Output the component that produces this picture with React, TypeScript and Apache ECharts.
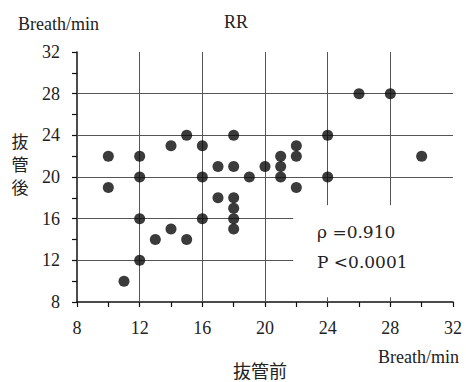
import React, { useEffect, useRef } from "react";
import * as echarts from "echarts";

// 抜管前 (x) vs 抜管後 (y), breaths/min
const beforeValues = [10, 10, 11, 12, 12, 12, 12, 13, 14, 14, 15, 15, 16, 16, 16, 17, 17, 18, 18, 18, 18, 18, 18, 19, 20, 21, 21, 21, 22, 22, 22, 24, 24, 26, 28, 30];
const afterValues = [22, 19, 10, 22, 20, 16, 12, 14, 23, 15, 24, 14, 23, 20, 16, 21, 18, 24, 21, 18, 17, 16, 15, 20, 21, 22, 21, 20, 23, 22, 19, 24, 20, 28, 28, 22];
const gridValues = [12, 16, 20, 24, 28];
const axisMin = 8;
const axisMax = 32;
const axisStep = 4;
const titleText = "RR";
const unitText = "Breath/min";
const xName = "抜管前";
const yName = "抜管後";
const statLines = ["ρ =0.910", "P <0.0001"];

// annotation box where gridlines are interrupted (axis units)
const gapX = 21.8;
const gapY = 17.3;

const SERIF = "'Liberation Serif', 'Times New Roman', serif";
const CJK = "'Noto Sans CJK JP', sans-serif";

export default function App() {
  const ref = useRef<HTMLDivElement>(null);
  useEffect(() => {
    if (!ref.current) return;
    const chart = echarts.init(ref.current, undefined, { renderer: "svg" });
    const points = beforeValues.map((x, i) => [x, afterValues[i]]);
    const segs: any[] = [];
    gridValues.forEach((v) => {
      // horizontal line at y = v
      const xEnd = v <= 16 ? gapX : axisMax;
      segs.push([{ coord: [axisMin, v] }, { coord: [xEnd, v] }]);
      // vertical line at x = v
      const yEnd = v >= 24 ? gapY : axisMin;
      segs.push([{ coord: [v, axisMax] }, { coord: [v, yEnd] }]);
      if (v >= 24) {
        segs.push([{ coord: [v, axisMin] }, { coord: [v, axisMin + 0.45] }]);
      }
    });
    const axisCommon = {
      type: "value" as const,
      min: axisMin,
      max: axisMax,
      interval: axisStep,
      axisLine: { show: true, lineStyle: { color: "#111", width: 1.5 } },
      axisTick: { show: true, length: 5, lineStyle: { color: "#111", width: 1.2 } },
      minorTick: { show: true, splitNumber: 2, length: 5, lineStyle: { color: "#111", width: 1.2 } },
      splitLine: { show: false },
      axisLabel: { fontSize: 18, fontFamily: SERIF, color: "#222" },
    };
    chart.setOption({
      animation: false,
      backgroundColor: "#fff",
      grid: { left: 77, right: 13, top: 52, bottom: 80 },
      xAxis: { ...axisCommon, axisLabel: { ...axisCommon.axisLabel, margin: 17 } },
      yAxis: { ...axisCommon, axisLabel: { ...axisCommon.axisLabel, margin: 17 } },
      series: [
        {
          type: "scatter",
          data: points,
          symbol: "circle",
          symbolSize: 11,
          itemStyle: { color: "#0a0a0a" },
          silent: true,
          z: 5,
          markLine: {
            silent: true,
            symbol: ["none", "none"],
            label: { show: false },
            lineStyle: { color: "#555", width: 1, type: "solid" },
            emphasis: { disabled: true },
            data: segs,
            z: 1,
          },
        },
      ],
      graphic: [
        { type: "text", left: 18, top: 15, style: { text: unitText, font: `18px ${SERIF}`, fill: "#222" } },
        { type: "text", x: 236, y: 22, style: { text: titleText, font: `18px ${SERIF}`, fill: "#222", align: "center", verticalAlign: "middle" } },
        { type: "text", x: 20, y: 163, style: { text: yName.split("").join("\n"), font: `17px ${CJK}`, lineHeight: 23, fill: "#222", align: "center", verticalAlign: "middle" } },
        { type: "text", x: 260, y: 370, style: { text: xName, font: `18px ${CJK}`, fill: "#222", align: "center", verticalAlign: "middle" } },
        { type: "text", x: 378, y: 357, style: { text: unitText, font: `18px ${SERIF}`, fill: "#222", align: "left", verticalAlign: "middle" } },
        { type: "text", x: 317, y: 232, style: { text: statLines[0], font: `17px 'DejaVu Serif', serif`, fill: "#222", align: "left", verticalAlign: "middle" } },
        { type: "text", x: 317, y: 262, style: { text: statLines[1], font: `17px 'DejaVu Serif', serif`, fill: "#222", align: "left", verticalAlign: "middle" } },
      ],
    });
    return () => chart.dispose();
  }, []);
  return <div ref={ref} style={{ width: 466, height: 382, position: "absolute", left: 0, top: 0 }} />;
}
